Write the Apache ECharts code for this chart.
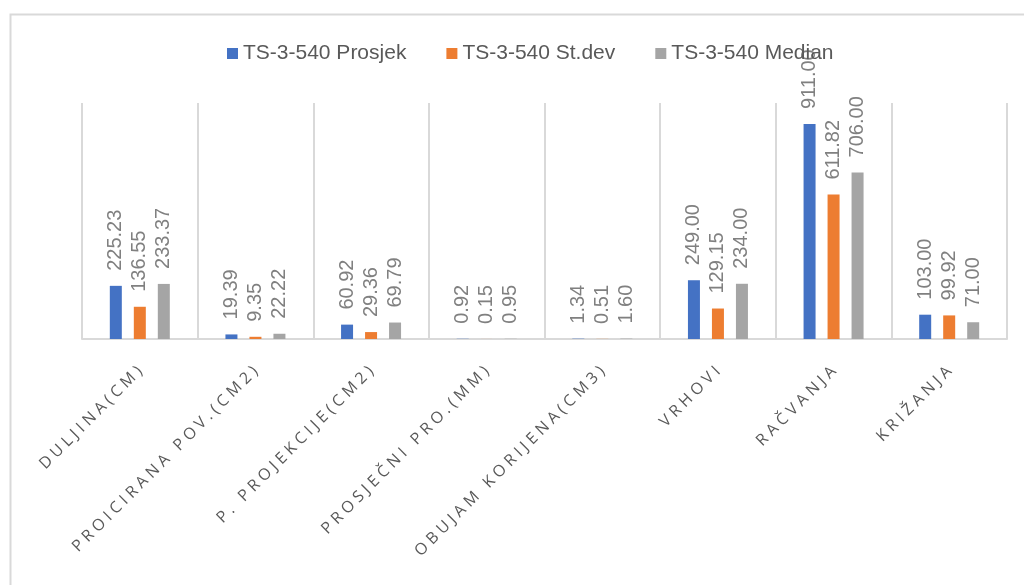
<!DOCTYPE html>
<html>
<head>
<meta charset="utf-8">
<script src="https://cdn.jsdelivr.net/npm/echarts@6/dist/echarts.min.js"></script>
<style>html,body{margin:0;padding:0;background:#fff}#c{width:1024px;height:585px}</style>
</head>
<body>
<div id="c"></div>
<script>
const categories = ['Duljina(cm)', 'Proicirana pov.(cm2)', 'P. projekcije(cm2)', 'Prosječni pro.(mm)', 'Obujam korijena(cm3)', 'Vrhovi', 'Račvanja', 'Križanja'];
const seriesNames = ['TS-3-540 Prosjek', 'TS-3-540 St.dev', 'TS-3-540 Median'];
const prosjek = [225.23, 19.39, 60.92, 0.92, 1.34, 249.00, 911.00, 103.00];
const stdev = [136.55, 9.35, 29.36, 0.15, 0.51, 129.15, 611.82, 99.92];
const median = [233.37, 22.22, 69.79, 0.95, 1.60, 234.00, 706.00, 71.00];
const colors = ['#4472C4', '#ED7D31', '#A5A5A5'];

const chart = echarts.init(document.getElementById('c'), null, {renderer: 'canvas'});
function spaced(s) {
  return s.toUpperCase().split('').map(ch => ch === ' ' ? ' ' : ch).join(' ');
}
const valueSets = [prosjek, stdev, median];
chart.setOption({
  animation: false,
  color: colors,
  graphic: [{
    type: 'rect', left: 8, top: 12, shape: {x: 0, y: 0, width: 1100, height: 1000},
    style: {fill: 'none', stroke: '#d9d9d9', lineWidth: 2}, silent: true
  }],
  legend: {
    left: 222, top: 38, itemWidth: 11, itemHeight: 11, itemGap: 40,
    icon: 'rect',
    textStyle: {fontFamily: 'Liberation Sans', fontSize: 21, color: '#595959'},
    data: seriesNames
  },
  grid: {left: 82, right: 17, top: 103, bottom: 246, containLabel: false},
  xAxis: {
    type: 'category', data: categories,
    axisLine: {lineStyle: {color: '#d9d9d9', width: 2}},
    axisTick: {show: false},
    splitLine: {show: true, lineStyle: {color: '#d9d9d9', width: 2}},
    axisLabel: {
      rotate: 45, interval: 0, margin: 30, color: '#595959',
      fontFamily: 'Open Sans', fontSize: 16,
      formatter: v => spaced(v)
    }
  },
  yAxis: {type: 'value', min: 0, max: 1000, show: false, splitLine: {show: false}},
  series: valueSets.map((vals, i) => ({
    name: seriesNames[i], type: 'bar', data: vals, barWidth: 12, barGap: '100%',
    label: {
      show: true, position: 'top', distance: 15, rotate: 90, align: 'left', verticalAlign: 'middle',
      color: '#808080', fontFamily: 'Liberation Sans', fontSize: 20,
      formatter: p => p.value.toFixed(2)
    }
  }))
});
</script>
</body>
</html>
